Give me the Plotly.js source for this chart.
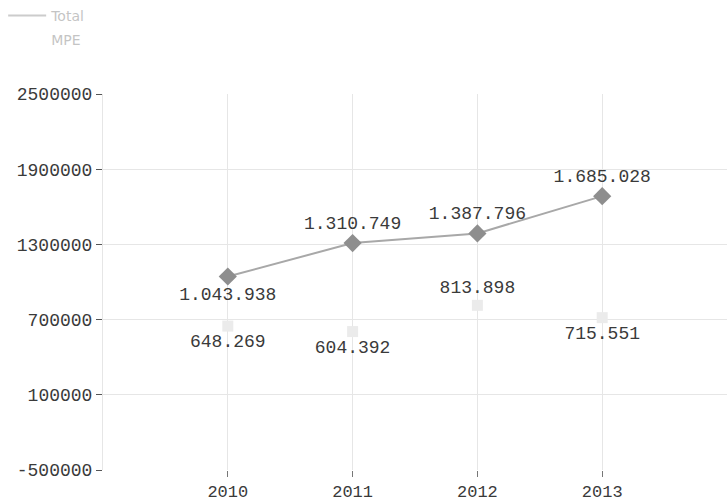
<!DOCTYPE html>
<html>
<head>
<meta charset="utf-8">
<script src="https://cdn.plot.ly/plotly-3.0.1.min.js"></script>
<style>html,body{margin:0;padding:0;background:#fff;}#chart{width:727px;height:501px;}</style>
</head>
<body>
<div id="chart"></div>
<script>
const years = [2010, 2011, 2012, 2013];
const totalValues = [1043938, 1310749, 1387796, 1685028];
const mpeValues = [648269, 604392, 813898, 715551];
const totalTextPos = ['bottom center', 'top center', 'top center', 'top center'];
const mpeTextPos = ['bottom center', 'bottom center', 'top center', 'bottom center'];
const yTicks = [-500000, 100000, 700000, 1300000, 1900000, 2500000];
const legendNames = ['Total', 'MPE'];

const monoFont = 'Liberation Mono, DejaVu Sans Mono, monospace';
const labelFont = {family: monoFont, size: 18, color: '#3a3a3a'};

const traces = [
  {
    x: years, y: totalValues, name: legendNames[0], type: 'scatter', mode: 'lines+markers+text',
    line: {color: '#a8a8a8', width: 2},
    marker: {symbol: 'diamond', size: 14, color: '#8e8e8e'},
    texttemplate: '%{y:,}', textposition: totalTextPos, textfont: labelFont,
    cliponaxis: false, showlegend: false
  },
  {
    x: years, y: mpeValues, name: legendNames[1], type: 'scatter', mode: 'markers+text',
    marker: {symbol: 'square', size: 11, color: '#ebebeb'},
    texttemplate: '%{y:,}', textposition: mpeTextPos, textfont: labelFont,
    cliponaxis: false, showlegend: false
  },
  {
    x: [null], y: [null], name: legendNames[0], type: 'scatter', mode: 'lines',
    line: {color: '#9a9a9a', width: 2}, visible: 'legendonly', legendgroup: 'a'
  },
  {
    x: [null], y: [null], name: legendNames[1], type: 'scatter', mode: 'lines',
    line: {color: 'rgba(0,0,0,0)', width: 2}, visible: 'legendonly', legendgroup: 'b'
  }
];

const layout = {
  width: 727, height: 501,
  margin: {l: 103, r: 0, t: 93, b: 31},
  paper_bgcolor: '#ffffff', plot_bgcolor: '#ffffff',
  separators: ',.',
  showlegend: true,
  legend: {x: -0.16, xanchor: 'left', y: 1.25, yanchor: 'top',
           font: {family: 'DejaVu Sans, Verdana, sans-serif', size: 14, color: '#8a8a8a'},
           bgcolor: 'rgba(0,0,0,0)', tracegroupgap: 3, itemwidth: 38},
  xaxis: {
    range: [2009, 2014], tickvals: years, ticktext: years.map(String),
    showgrid: true, gridcolor: '#e6e6e6', gridwidth: 1,
    zeroline: false, showline: false,
    ticks: 'outside', ticklen: 6, tickcolor: '#777', tickwidth: 1,
    tickfont: {family: monoFont, size: 17, color: '#3a3a3a'}
  },
  yaxis: {
    range: [-500000, 2500000], tickvals: yTicks, ticktext: yTicks.map(String),
    showgrid: true, gridcolor: '#e6e6e6', gridwidth: 1,
    zeroline: false, showline: true, linecolor: '#e6e6e6', linewidth: 1,
    ticks: 'outside', ticklen: 6, tickcolor: '#555', tickwidth: 1,
    tickfont: {family: monoFont, size: 18, color: '#3a3a3a'}
  }
};

Plotly.newPlot('chart', traces, layout, {displayModeBar: false, staticPlot: true});
</script>
</body>
</html>
